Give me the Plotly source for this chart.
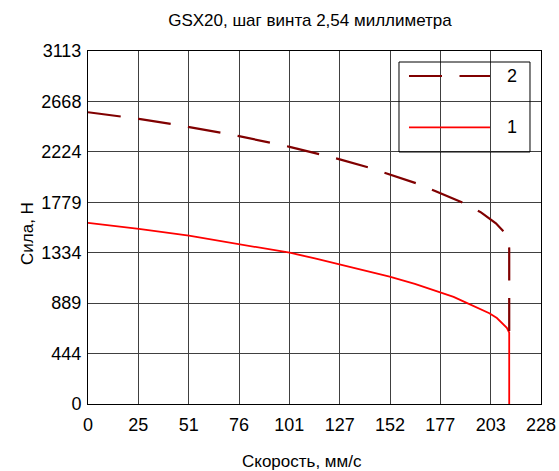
import plotly.graph_objects as go

# Force vs. speed for the GSX20 actuator, screw lead 2.54 mm
speed_1 = [0, 25.6, 50.8, 76.0, 101.5, 114.2, 126.3, 139.0, 151.8, 164.5, 176.9, 184.0,
           190.3, 196.5, 202.0, 205.8, 208.7, 210.8, 212.0, 212.0]
force_1 = [1598, 1545, 1484, 1411, 1334, 1285, 1232, 1180, 1123, 1060, 991, 945,
           894, 848, 800, 758, 712, 672, 630, 0]

speed_2 = [0, 16.4, 25.6, 42.0, 50.8, 67.3, 76.0, 92.4, 101.5, 116.9, 126.3, 141.8,
           150.5, 166.0, 174.4, 189.8, 197.8, 205.3, 210.0, 211.6, 212.0, 212.0]
force_2 = [2573, 2538, 2514, 2470, 2444, 2391, 2362, 2303, 2268, 2201, 2159, 2083,
           2033, 1942, 1880, 1766, 1690, 1593, 1505, 1430, 1370, 630]

series_names = ["1", "2"]
series_colors = ["#ff0000", "#800000"]

x_tick_labels = ["0", "25", "51", "76", "101", "127", "152", "177", "203", "228"]
y_tick_labels = ["0", "444", "889", "1334", "1779", "2224", "2668", "3113"]
x_max = 228.0
y_max = 3113.0

title_text = "GSX20, шаг винта 2,54 миллиметра"
x_title = "Скорость, мм/с"
y_title = "Сила, Н"

FONT = "Liberation Sans, Arial, sans-serif"
DASH = "33px,17.5px"

x_tick_vals = [i * x_max / (len(x_tick_labels) - 1) for i in range(len(x_tick_labels))]
y_tick_vals = [i * y_max / (len(y_tick_labels) - 1) for i in range(len(y_tick_labels))]

fig = go.Figure()
fig.add_trace(go.Scatter(
    x=speed_1, y=force_1, mode="lines", name=series_names[0],
    line=dict(color=series_colors[0], width=1.8),
))
fig.add_trace(go.Scatter(
    x=speed_2, y=force_2, mode="lines", name=series_names[1],
    line=dict(color=series_colors[1], width=2.2, dash=DASH),
))

axis_common = dict(
    showgrid=True, gridcolor="#404040", gridwidth=1,
    showline=True, linecolor="black", linewidth=1, mirror=True,
    ticks="", zeroline=False, automargin=False,
    tickfont=dict(family=FONT, size=18, color="black"),
)

fig.update_layout(
    width=559, height=471,
    margin=dict(l=88, r=18, t=51, b=67, pad=0, autoexpand=False),
    paper_bgcolor="white", plot_bgcolor="white",
    showlegend=False,
    font=dict(family=FONT, color="black"),
    title=dict(text=title_text, font=dict(family=FONT, size=17, color="black"),
               xref="container", x=310 / 559, xanchor="center",
               yref="container", y=1 - 20 / 471, yanchor="middle", automargin=False),
    xaxis=dict(range=[0, x_max], tickvals=x_tick_vals, ticktext=x_tick_labels,
               ticklabelstandoff=4, **axis_common),
    yaxis=dict(range=[0, y_max], tickvals=y_tick_vals, ticktext=y_tick_labels,
               ticklabelstandoff=2, **axis_common),
)

# axis titles
fig.add_annotation(text=x_title, xref="paper", yref="paper", x=0.4724, y=-0.1615,
                   xanchor="center", yanchor="middle", showarrow=False,
                   font=dict(family=FONT, size=17, color="black"))
fig.add_annotation(text=y_title, xref="paper", yref="paper", x=-0.1347, y=0.4844,
                   xanchor="center", yanchor="middle", showarrow=False, textangle=-90,
                   font=dict(family=FONT, size=17, color="black"))

# legend box with line samples (series "2" above series "1")
lx0, lx1, ly0, ly1 = 0.6865, 0.9757, 0.7139, 0.9688
fig.add_shape(type="rect", xref="paper", yref="paper", x0=lx0, x1=lx1, y0=ly0, y1=ly1,
              line=dict(color="black", width=1), fillcolor="rgba(0,0,0,0)")
legend_rows = [(series_names[1], series_colors[1], DASH, 2.2, 0.9292),
               (series_names[0], series_colors[0], "solid", 1.8, 0.7839)]
for name, color, dash, width, yy in legend_rows:
    fig.add_shape(type="line", xref="paper", yref="paper", x0=0.7086, x1=0.8874,
                  y0=yy, y1=yy, line=dict(color=color, width=width, dash=dash))
    fig.add_annotation(text=name, xref="paper", yref="paper", x=0.9353, y=yy,
                       xanchor="center", yanchor="middle", showarrow=False,
                       font=dict(family=FONT, size=18, color="black"))

fig.write_html("out.html")
